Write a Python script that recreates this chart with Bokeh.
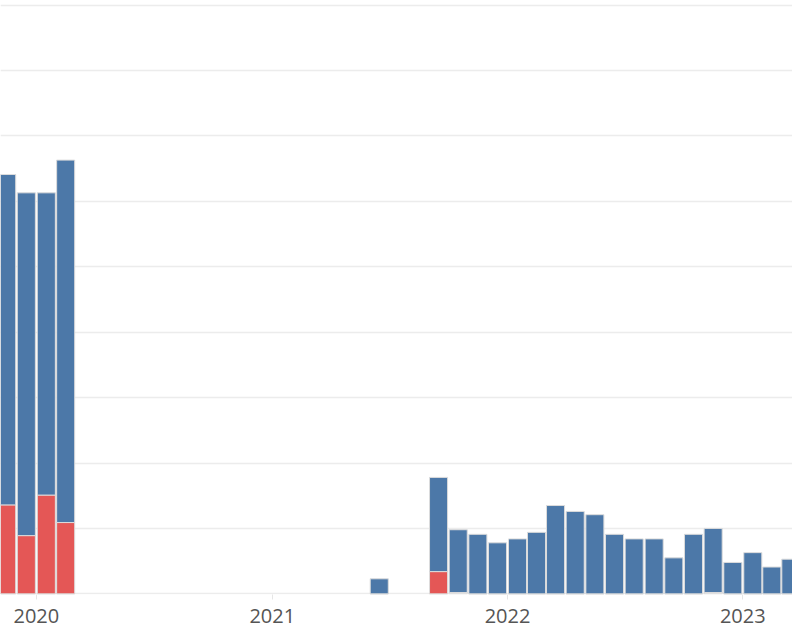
import pandas as pd
from bokeh.plotting import figure
from bokeh.models import ColumnDataSource, Range1d, FixedTicker, DatetimeTickFormatter
from bokeh.embed import file_html
from bokeh.resources import INLINE

# ---- data ----
months = ["2019-11", "2019-12", "2020-01", "2020-02",
          "2021-06", "2021-09", "2021-10", "2021-11", "2021-12",
          "2022-01", "2022-02", "2022-03", "2022-04", "2022-05", "2022-06",
          "2022-07", "2022-08", "2022-09", "2022-10", "2022-11", "2022-12",
          "2023-01", "2023-02", "2023-03"]
blue_vals = [50.5, 52.4, 46.2, 55.4,
             2.3, 14.4, 9.6, 9.1, 7.8,
             8.4, 9.4, 13.5, 12.6, 12.1, 9.1,
             8.4, 8.4, 5.5, 9.1, 9.8, 4.8,
             6.3, 4.1, 5.3]
red_vals = [13.6, 8.9, 15.1, 10.9,
            0, 3.4, 0, 0, 0,
            0, 0, 0, 0, 0, 0,
            0, 0, 0, 0, 0, 0,
            0, 0, 0]
light_vals = [0, 0, 0, 0,
              0, 0, 0.2, 0, 0,
              0, 0, 0, 0, 0, 0,
              0, 0, 0, 0, 0.2, 0,
              0, 0, 0]
year_ticks = ["2019", "2020", "2021", "2022", "2023", "2024"]

starts = pd.to_datetime(months, format="%Y-%m")
ends = starts + pd.offsets.MonthBegin(1)
mids = starts + (ends - starts) / 2

source = ColumnDataSource(dict(mid=mids, blue=blue_vals, red=red_vals, light=light_vals))

DAY = 86400000
ref = pd.Timestamp("2022-01-01").value // 10**6
tick_ms = [pd.Timestamp(y).value // 10**6 for y in year_ticks]

p = figure(width=792, height=632, output_backend="svg", toolbar_location=None,
           x_axis_type="datetime",
           x_range=Range1d(ref - 786.6 * DAY, ref + 442.1 * DAY),
           y_range=Range1d(-0.1, 90.7),
           min_border_left=0, min_border_right=0, min_border_top=0, min_border_bottom=38)
p.outline_line_color = None
p.background_fill_color = "white"
p.border_fill_color = "white"

p.vbar_stack(["light", "red", "blue"], x="mid", width=28 * DAY, source=source,
             color=["#eeeeee", "#e45756", "#4c78a8"],
             line_color="#dcdcdc", line_width=1)

p.yaxis.visible = False
p.ygrid.grid_line_color = "#ececec"
p.ygrid.grid_line_width = 1.5
p.ygrid.ticker = [0, 10, 20, 30, 40, 50, 60, 70, 80, 90]
p.xgrid.grid_line_color = None

xa = p.xaxis[0]
xa.ticker = FixedTicker(ticks=tick_ms)
xa.formatter = DatetimeTickFormatter(years="%Y", months="%Y", days="%Y", hours="%Y")
xa.axis_line_color = None
xa.major_tick_line_color = "#e6e6e6"
xa.major_tick_in = 0
xa.major_tick_out = 5
xa.minor_tick_line_color = None
xa.major_label_standoff = 9
xa.major_label_text_font = "Open Sans"
xa.major_label_text_font_size = "20px"
xa.major_label_text_color = "#555555"

open("out.html", "w").write(file_html(p, INLINE))
